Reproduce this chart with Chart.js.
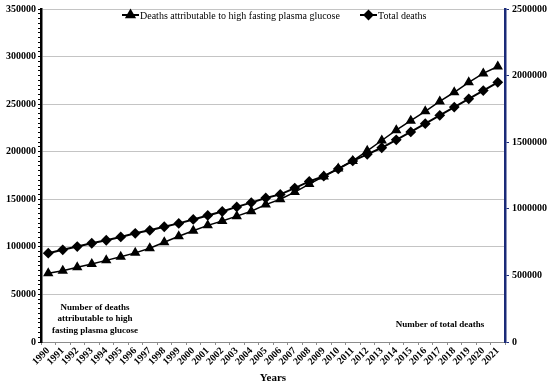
<!DOCTYPE html>
<html>
<head>
<meta charset="utf-8">
<script src="https://cdn.jsdelivr.net/npm/chart.js@4.4.1/dist/chart.umd.min.js"></script>
<style>
  html, body { margin: 0; padding: 0; background: #fff; }
  #wrap { width: 550px; height: 387px; position: relative; }
</style>
</head>
<body>
<div id="wrap"><canvas id="deathChart"></canvas></div>
<script>
// Chart data
const years = ['1990', '1991', '1992', '1993', '1994', '1995', '1996', '1997', '1998', '1999',
    '2000', '2001', '2002', '2003', '2004', '2005', '2006', '2007', '2008', '2009',
    '2010', '2011', '2012', '2013', '2014', '2015', '2016', '2017', '2018', '2019',
    '2020', '2021'];

// left axis
const fpgDeaths = [72200, 75000, 78500, 82000, 85800, 89600, 93700, 98600, 104900, 111100,
    117000, 122600, 127100, 132300, 137500, 144400, 150000, 157600, 166000, 174000,
    182300, 190300, 201000, 211800, 222600, 232600, 242400, 252800, 262500, 272900,
    282300, 289600];

// right axis
const totalDeaths = [667000, 692000, 716600, 741600, 764000, 788700, 816000, 838300, 865500, 890400,
    920300, 950000, 979700, 1014300, 1046600, 1081300, 1108000, 1155800, 1205400, 1245000,
    1299600, 1359200, 1408800, 1458300, 1517900, 1577400, 1639400, 1701400, 1763400, 1825400,
    1887400, 1949400];

const seriesLabels = ['Deaths attributable to high fasting plasma glucose', 'Total deaths'];
const leftTicksMax = 350000;
const rightTicksMax = 2500000;

const SERIF = '"Liberation Serif", "Times New Roman", serif';

// Legend drawn inside the plot area, line + marker like the original
const insideLegend = {
    id: 'insideLegend',
    afterDraw(chart) {
        const ctx = chart.ctx;
        const y = 15;
        const starts = [122, 360];
        ctx.save();
        ctx.font = '10px ' + SERIF;
        ctx.textBaseline = 'middle';
        chart.data.datasets.forEach((ds, i) => {
            const x = starts[i];
            ctx.strokeStyle = '#000';
            ctx.lineWidth = 2;
            ctx.beginPath();
            ctx.moveTo(x, y);
            ctx.lineTo(x + 17, y);
            ctx.stroke();
            Chart.helpers.drawPoint(ctx, {
                pointStyle: ds.pointStyle,
                radius: ds.pointRadius,
                borderWidth: 1
            }, x + 8.5, y);
            ctx.fillStyle = '#000';
            ctx.textAlign = 'left';
            ctx.fillText(ds.label, x + 18, y + 1);
        });
        ctx.restore();
    }
};

// Axis captions inside the plot
const captions = {
    id: 'captions',
    afterDraw(chart) {
        const ctx = chart.ctx;
        ctx.save();
        ctx.font = 'bold 9px ' + SERIF;
        ctx.fillStyle = '#000';
        ctx.textAlign = 'center';
        ctx.textBaseline = 'middle';
        ctx.fillText('Number of deaths', 95, 308);
        ctx.fillText('attributable to high', 95, 319);
        ctx.fillText('fasting plasma glucose', 95, 331);
        ctx.fillText('Number of total deaths', 440, 325);
        ctx.restore();
    }
};

function initDeathChart() {
    const el = document.getElementById('deathChart');
    if (!el) return;

    return new Chart(el, {
        type: 'line',
        data: {
            labels: years,
            datasets: [{
                label: seriesLabels[0],
                data: fpgDeaths,
                yAxisID: 'y',
                borderColor: '#000',
                backgroundColor: '#000',
                borderWidth: 1.5,
                pointStyle: 'triangle',
                pointRadius: 4.5,
                tension: 0
            }, {
                label: seriesLabels[1],
                data: totalDeaths,
                yAxisID: 'y1',
                borderColor: '#000',
                backgroundColor: '#000',
                borderWidth: 2,
                pointStyle: 'rectRot',
                pointRadius: 4,
                tension: 0
            }]
        },
        options: {
            responsive: true,
            maintainAspectRatio: false,
            animation: false,
            layout: { padding: { top: 6, left: 0, right: 0, bottom: 0 } },
            plugins: {
                legend: { display: false },
                tooltip: { enabled: false }
            },
            scales: {
                x: {
                    afterFit: s => { s.height = 45; },
                    offset: true,
                    border: { color: '#8c8c8c', width: 1 },
                    grid: {
                        offset: true,
                        drawOnChartArea: false,
                        color: '#8c8c8c',
                        tickLength: 3
                    },
                    ticks: {
                        minRotation: 45,
                        maxRotation: 45,
                        autoSkip: false,
                        padding: 0,
                        color: '#000',
                        font: { family: SERIF, size: 10, weight: 'bold' }
                    },
                    title: {
                        display: true,
                        text: 'Years',
                        color: '#000',
                        padding: { top: 0, bottom: 2 },
                        font: { family: SERIF, size: 11, weight: 'bold' }
                    }
                },
                y: {
                    position: 'left',
                    min: 0,
                    max: leftTicksMax,
                    afterFit: s => { s.width = 41; },
                    border: { color: '#000', width: 2.5 },
                    grid: {
                        color: c => (c.tick && c.tick.value % 50000 === 0) ? '#c4c4c4' : 'rgba(0,0,0,0)',
                        tickColor: '#000',
                        tickLength: 3
                    },
                    ticks: {
                        stepSize: 5000,
                        autoSkip: false,
                        padding: 2,
                        color: '#000',
                        font: { family: SERIF, size: 10, weight: 'bold' },
                        callback: v => (v % 50000 === 0 ? String(v) : '')
                    }
                },
                y1: {
                    position: 'right',
                    min: 0,
                    max: rightTicksMax,
                    afterFit: s => { s.width = 45; },
                    border: { color: '#1a2a78', width: 2.5 },
                    grid: {
                        drawOnChartArea: false,
                        color: '#1a2a78',
                        tickLength: 4
                    },
                    ticks: {
                        stepSize: 500000,
                        padding: 3,
                        color: '#000',
                        font: { family: SERIF, size: 10, weight: 'bold' },
                        callback: v => String(v)
                    }
                }
            }
        },
        plugins: [insideLegend, captions]
    });
}

initDeathChart();
</script>
</body>
</html>
